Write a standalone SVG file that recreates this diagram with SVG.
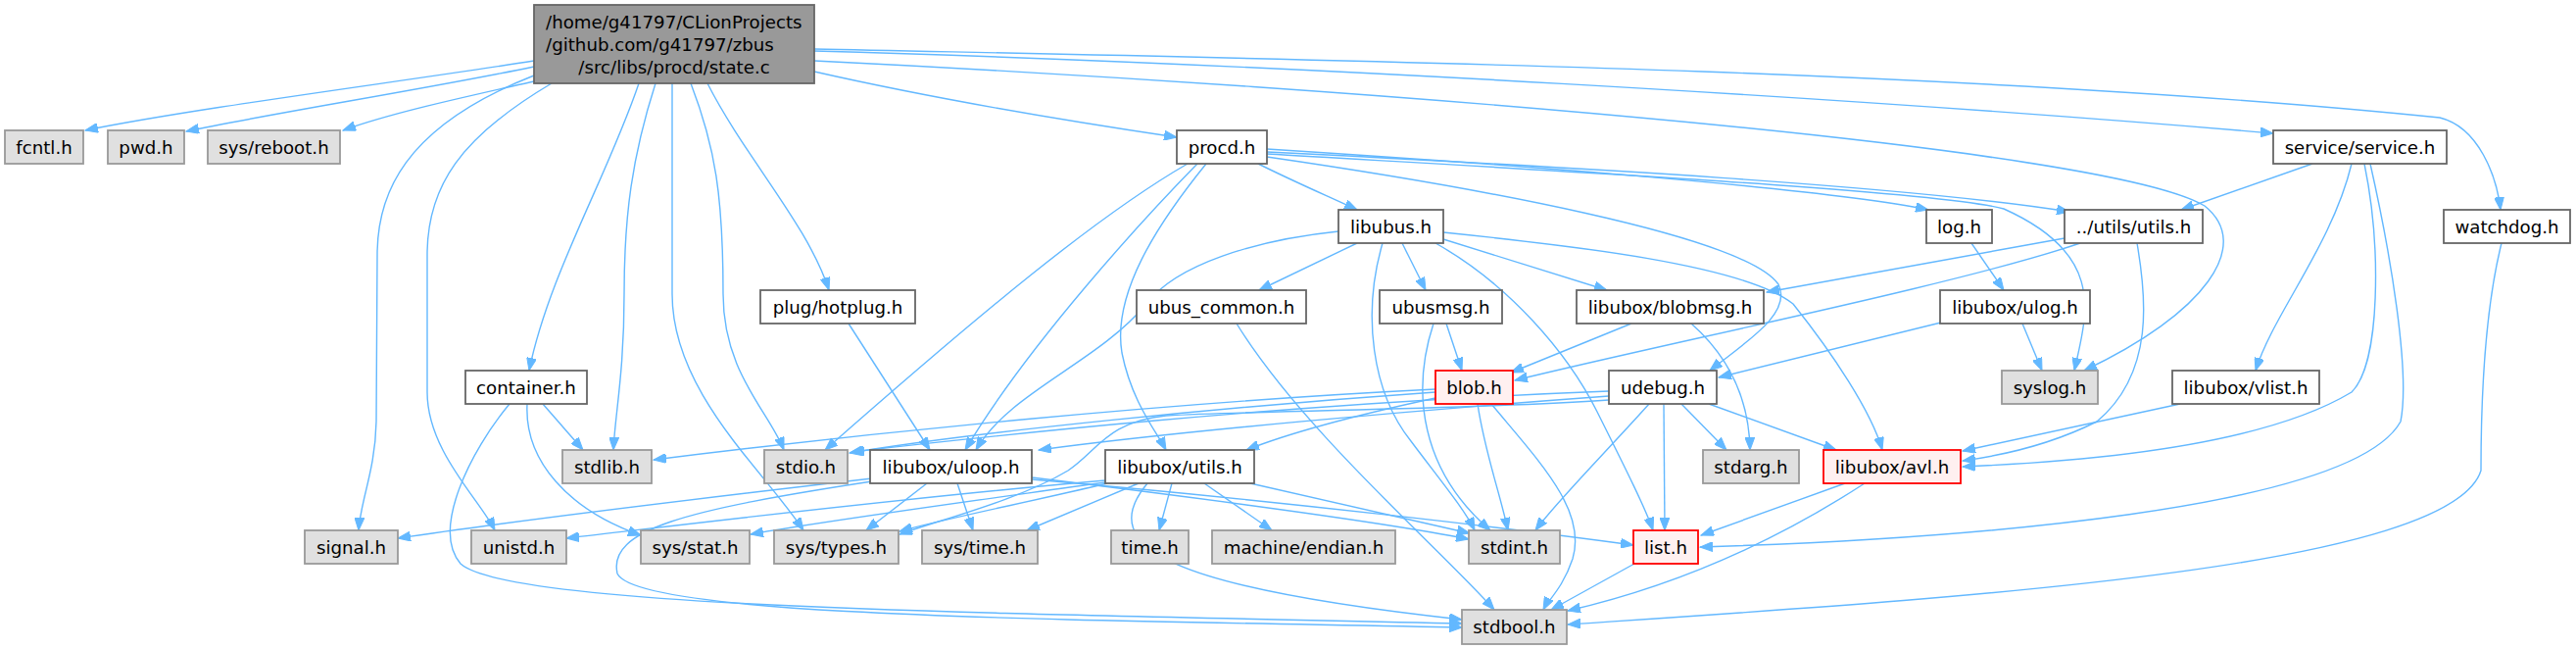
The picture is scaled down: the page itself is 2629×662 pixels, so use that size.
<svg xmlns="http://www.w3.org/2000/svg" width="2629" height="662" viewBox="0 0 2629 662">
<style>
.e{fill:none;stroke:#63b8ff;stroke-width:1.4;marker-end:url(#arr)}
.n rect{fill:#fff;stroke:#666;stroke-width:1.8}
.g rect{fill:#e0e0e0;stroke:#999;stroke-width:1.8}
.r rect{fill:#fff0f0;stroke:#f00;stroke-width:1.8}
.m rect{fill:#999;stroke:#666;stroke-width:1.8}
text{font-family:"DejaVu Sans","Liberation Sans",sans-serif;font-size:18.2px;fill:#000;text-anchor:middle}
</style>
<defs>
<marker id="arr" markerWidth="14" markerHeight="10" refX="13" refY="5" orient="auto" markerUnits="userSpaceOnUse"><path d="M0,0 L13,5 L0,10 z" fill="#63b8ff" stroke="#63b8ff" stroke-width="1"/></marker>
</defs>
<rect width="2629" height="662" fill="#fff"/>
<g id="edges">
<path class="e" d="M545,62 C420,82 200,110 87,133"/>
<path class="e" d="M545,68 C440,90 280,115 190,134"/>
<path class="e" d="M545,83 C470,100 400,115 350,133"/>
<path class="e" d="M545,77 C410,130 385,200 385,260 L384,430 C383,480 368,510 366,541"/>
<path class="e" d="M563,85 C470,140 436,190 436,260 L436,400 C436,460 490,510 505,541"/>
<path class="e" d="M652,85 C620,180 560,280 540,378"/>
<path class="e" d="M669,85 C645,160 637,220 637,300 C637,380 628,420 626,459"/>
<path class="e" d="M686,85 L686,300 C686,400 780,480 820,541"/>
<path class="e" d="M705,85 C730,150 738,200 738,300 C738,380 785,420 800,459"/>
<path class="e" d="M722,85 C760,160 825,230 846,296"/>
<path class="e" d="M831,73 C950,100 1100,125 1201,140"/>
<path class="e" d="M831,50 C1300,60 2000,70 2490,120 C2530,130 2548,180 2552,214"/>
<path class="e" d="M831,52 C1300,65 1900,100 2320,136"/>
<path class="e" d="M831,62 C1400,90 2150,150 2250,210 C2300,250 2250,320 2127,378"/>
<path class="e" d="M1284,167 C1320,185 1355,200 1385,214"/>
<path class="e" d="M1293,152 C1500,165 1850,190 1968,214"/>
<path class="e" d="M1293,155 C1600,170 1950,190 2112,216"/>
<path class="e" d="M1293,157 C1600,175 1980,195 2045,213 C2150,260 2130,320 2117,378"/>
<path class="e" d="M1293,160 C1500,190 1780,240 1815,290 C1830,320 1780,350 1745,378"/>
<path class="e" d="M1212,167 C1120,220 1000,320 842,459"/>
<path class="e" d="M1222,167 C1170,220 1050,350 985,459"/>
<path class="e" d="M1231,167 C1180,230 1135,300 1145,360 C1155,410 1180,440 1190,459"/>
<path class="e" d="M1385,248 L1285,296"/>
<path class="e" d="M1431,248 L1455,296"/>
<path class="e" d="M1473,244 L1640,296"/>
<path class="e" d="M1473,237 C1600,250 1780,270 1830,310 C1870,360 1910,420 1921,459"/>
<path class="e" d="M1465,248 C1540,290 1600,360 1630,420 C1660,480 1680,520 1687,541"/>
<path class="e" d="M1411,248 C1390,320 1400,400 1440,450 C1470,490 1495,520 1505,541"/>
<path class="e" d="M1366,236 C1280,245 1200,270 1170,310 C1120,370 1030,400 996,459"/>
<path class="e" d="M1262,330 C1330,440 1470,560 1525,622"/>
<path class="e" d="M1476,330 L1492,378"/>
<path class="e" d="M1463,330 C1440,400 1450,480 1521,541"/>
<path class="e" d="M1465,397 C1200,410 900,440 667,469"/>
<path class="e" d="M1465,400 C1250,415 1000,440 867,462"/>
<path class="e" d="M1465,406 C1400,420 1320,440 1272,459"/>
<path class="e" d="M1508,412 C1515,460 1530,500 1539,541"/>
<path class="e" d="M1522,412 C1570,470 1620,520 1605,570 C1595,600 1580,612 1575,622"/>
<path class="e" d="M1642,399 C1300,412 1000,446 869,461"/>
<path class="e" d="M1642,404 C1450,418 1200,440 1060,459"/>
<path class="e" d="M1642,408 C1500,418 1300,418 1190,424 C1130,430 1120,460 1090,480 C1040,510 960,530 918,545"/>
<path class="e" d="M1683,412 C1640,460 1590,510 1567,541"/>
<path class="e" d="M1698,412 L1699,541"/>
<path class="e" d="M1716,412 L1762,459"/>
<path class="e" d="M1744,412 L1874,459"/>
<path class="e" d="M1665,330 L1542,380"/>
<path class="e" d="M1726,330 C1760,360 1785,400 1786,459"/>
<path class="e" d="M2012,248 L2045,296"/>
<path class="e" d="M2064,330 L2084,378"/>
<path class="e" d="M1985,328 L1754,385"/>
<path class="e" d="M2107,243 L1803,298"/>
<path class="e" d="M2123,248 C2000,290 1700,350 1546,388"/>
<path class="e" d="M2181,248 C2190,300 2200,380 2140,430 C2090,455 2040,465 2003,470"/>
<path class="e" d="M2360,167 L2226,214"/>
<path class="e" d="M2400,167 C2380,250 2320,320 2302,378"/>
<path class="e" d="M2413,167 C2430,250 2430,370 2400,400 C2300,460 2100,472 2003,476"/>
<path class="e" d="M2419,167 C2440,260 2460,380 2450,430 C2400,520 2000,550 1735,558"/>
<path class="e" d="M2225,412 L2003,460"/>
<path class="e" d="M2553,248 C2535,320 2532,420 2532,480 C2500,580 2000,610 1600,637"/>
<path class="e" d="M1883,493 L1736,546"/>
<path class="e" d="M1903,493 C1800,560 1700,600 1600,623"/>
<path class="e" d="M1668,575 L1583,622"/>
<path class="e" d="M890,488 C700,510 500,535 406,549"/>
<path class="e" d="M890,491 C700,520 620,540 630,585 C650,630 1100,632 1492,640"/>
<path class="e" d="M946,493 L884,541"/>
<path class="e" d="M977,493 L993,541"/>
<path class="e" d="M1053,487 C1200,505 1400,530 1499,550"/>
<path class="e" d="M1053,489 C1300,510 1550,540 1667,556"/>
<path class="e" d="M1128,490 C900,510 700,535 578,549"/>
<path class="e" d="M1128,492 C1000,510 850,530 766,545"/>
<path class="e" d="M1130,493 C1060,510 960,530 918,542"/>
<path class="e" d="M1162,493 L1048,541"/>
<path class="e" d="M1196,493 L1183,541"/>
<path class="e" d="M1229,493 L1298,541"/>
<path class="e" d="M1276,493 L1500,544"/>
<path class="e" d="M1171,493 C1115,560 1200,600 1492,632"/>
<path class="e" d="M520,412 C480,460 440,540 470,575 C520,620 1000,625 1492,636"/>
<path class="e" d="M554,412 L595,459"/>
<path class="e" d="M538,412 C535,470 580,520 654,546"/>
<path class="e" d="M866,330 L949,459"/>
</g>
<g id="n_main" class="m"><rect x="545" y="5" width="286" height="80"/><text x="557" y="29" style="text-anchor:start">/home/g41797/CLionProjects</text><text x="557" y="52" style="text-anchor:start">/github.com/g41797/zbus</text><text x="688" y="75">/src/libs/procd/state.c</text></g>
<g id="n_fcntl" class="g"><rect x="5" y="133" width="80" height="34"/><text x="45" y="156.5">fcntl.h</text></g>
<g id="n_pwd" class="g"><rect x="110" y="133" width="78" height="34"/><text x="149" y="156.5">pwd.h</text></g>
<g id="n_reboot" class="g"><rect x="212" y="133" width="135" height="34"/><text x="279.5" y="156.5">sys/reboot.h</text></g>
<g id="n_procd" class="n"><rect x="1201" y="133" width="92" height="34"/><text x="1247" y="156.5">procd.h</text></g>
<g id="n_service" class="n"><rect x="2320" y="133" width="177" height="34"/><text x="2408.5" y="156.5">service/service.h</text></g>
<g id="n_libubus" class="n"><rect x="1366" y="214" width="107" height="34"/><text x="1419.5" y="237.5">libubus.h</text></g>
<g id="n_log" class="n"><rect x="1966" y="214" width="67" height="34"/><text x="1999.5" y="237.5">log.h</text></g>
<g id="n_utils" class="n"><rect x="2107" y="214" width="141" height="34"/><text x="2177.5" y="237.5">../utils/utils.h</text></g>
<g id="n_watchdog" class="n"><rect x="2494" y="214" width="129" height="34"/><text x="2558.5" y="237.5">watchdog.h</text></g>
<g id="n_hotplug" class="n"><rect x="776" y="296" width="158" height="34"/><text x="855" y="319.5">plug/hotplug.h</text></g>
<g id="n_ubus_common" class="n"><rect x="1160" y="296" width="173" height="34"/><text x="1246.5" y="319.5">ubus_common.h</text></g>
<g id="n_ubusmsg" class="n"><rect x="1408" y="296" width="125" height="34"/><text x="1470.5" y="319.5">ubusmsg.h</text></g>
<g id="n_blobmsg" class="n"><rect x="1609" y="296" width="191" height="34"/><text x="1704.5" y="319.5">libubox/blobmsg.h</text></g>
<g id="n_ulog" class="n"><rect x="1980" y="296" width="153" height="34"/><text x="2056.5" y="319.5">libubox/ulog.h</text></g>
<g id="n_container" class="n"><rect x="475" y="378" width="124" height="34"/><text x="537" y="401.5">container.h</text></g>
<g id="n_blob" class="r"><rect x="1465" y="378" width="79" height="34"/><text x="1504.5" y="401.5">blob.h</text></g>
<g id="n_udebug" class="n"><rect x="1642" y="378" width="110" height="34"/><text x="1697" y="401.5">udebug.h</text></g>
<g id="n_syslog" class="g"><rect x="2043" y="378" width="98" height="34"/><text x="2092" y="401.5">syslog.h</text></g>
<g id="n_vlist" class="n"><rect x="2217" y="378" width="150" height="34"/><text x="2292" y="401.5">libubox/vlist.h</text></g>
<g id="n_stdlib" class="g"><rect x="574" y="459" width="91" height="34"/><text x="619.5" y="482.5">stdlib.h</text></g>
<g id="n_stdio" class="g"><rect x="780" y="459" width="85" height="34"/><text x="822.5" y="482.5">stdio.h</text></g>
<g id="n_uloop" class="n"><rect x="888" y="459" width="165" height="34"/><text x="970.5" y="482.5">libubox/uloop.h</text></g>
<g id="n_lutils" class="n"><rect x="1128" y="459" width="152" height="34"/><text x="1204" y="482.5">libubox/utils.h</text></g>
<g id="n_stdarg" class="g"><rect x="1738" y="459" width="98" height="34"/><text x="1787" y="482.5">stdarg.h</text></g>
<g id="n_avl" class="r"><rect x="1861" y="459" width="140" height="34"/><text x="1931" y="482.5">libubox/avl.h</text></g>
<g id="n_signal" class="g"><rect x="311" y="541" width="95" height="34"/><text x="358.5" y="564.5">signal.h</text></g>
<g id="n_unistd" class="g"><rect x="481" y="541" width="97" height="34"/><text x="529.5" y="564.5">unistd.h</text></g>
<g id="n_stat" class="g"><rect x="654" y="541" width="111" height="34"/><text x="709.5" y="564.5">sys/stat.h</text></g>
<g id="n_types" class="g"><rect x="790" y="541" width="127" height="34"/><text x="853.5" y="564.5">sys/types.h</text></g>
<g id="n_time" class="g"><rect x="941" y="541" width="118" height="34"/><text x="1000" y="564.5">sys/time.h</text></g>
<g id="n_timeh" class="g"><rect x="1134" y="541" width="79" height="34"/><text x="1173.5" y="564.5">time.h</text></g>
<g id="n_endian" class="g"><rect x="1237" y="541" width="187" height="34"/><text x="1330.5" y="564.5">machine/endian.h</text></g>
<g id="n_stdint" class="g"><rect x="1499" y="541" width="93" height="34"/><text x="1545.5" y="564.5">stdint.h</text></g>
<g id="n_list" class="r"><rect x="1667" y="541" width="66" height="34"/><text x="1700" y="564.5">list.h</text></g>
<g id="n_stdbool" class="g"><rect x="1492" y="622" width="107" height="35"/><text x="1545.5" y="646">stdbool.h</text></g>
</svg>
